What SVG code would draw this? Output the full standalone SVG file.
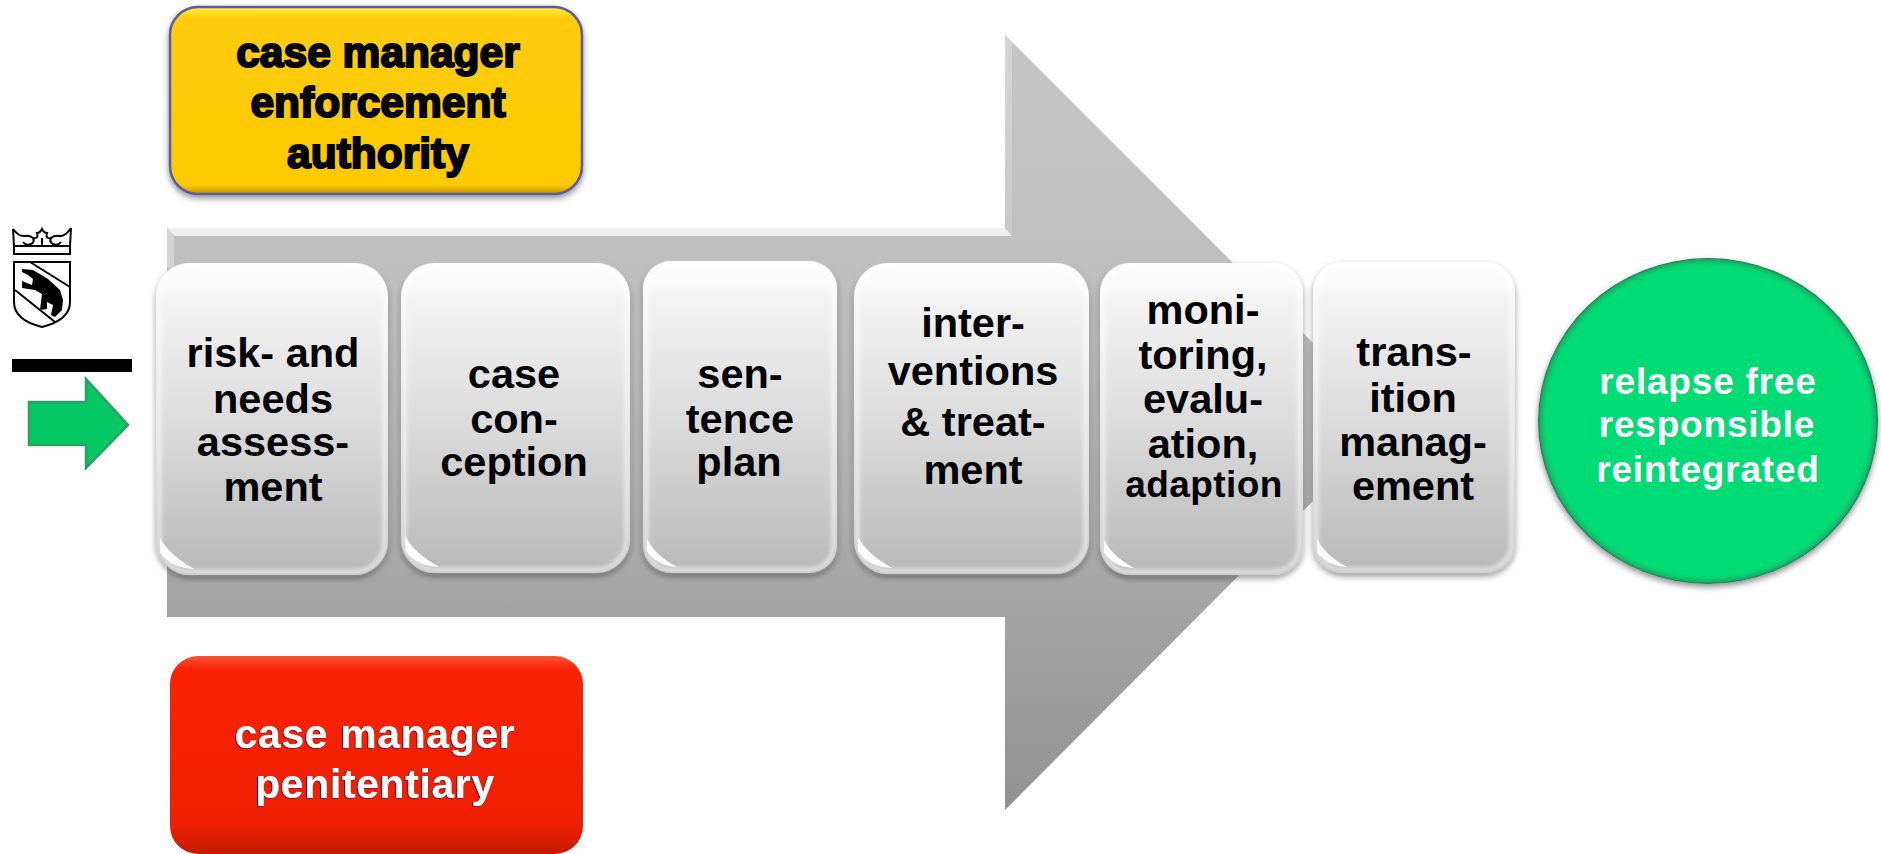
<svg xmlns="http://www.w3.org/2000/svg" width="1881" height="854" viewBox="0 0 1881 854">
<style>
text{font-family:"Liberation Sans",Arial,sans-serif;font-weight:700;text-anchor:middle}
.n{font-size:41.5px;fill:#000}
.card{fill:url(#cardG);filter:url(#shadow)}
.rim{fill:none;stroke:#fff;stroke-width:5;opacity:.6;filter:url(#b1)}
.glint{fill:#fff;filter:url(#b05)}
.y{font-size:42.5px;fill:#000;stroke:#000;stroke-width:2px}
.r{font-size:41px;fill:#fff;letter-spacing:.6px;filter:url(#fringe)}
.c{font-size:37px;fill:#fff;letter-spacing:.8px}
.ink{fill:none;stroke:#000;stroke-width:2}
</style>
<defs>
<linearGradient id="cardG" x1="0" y1="0" x2="0" y2="1"><stop offset="0" stop-color="#fff"/><stop offset=".07" stop-color="#fafafa"/><stop offset=".12" stop-color="#f3f3f3"/><stop offset=".55" stop-color="#d9d9d9"/><stop offset="1" stop-color="#b8b8b8"/></linearGradient>
<linearGradient id="arrowG" gradientUnits="userSpaceOnUse" x1="0" y1="35" x2="0" y2="810"><stop offset="0" stop-color="#c6c6c6"/><stop offset=".4" stop-color="#bcbcbc"/><stop offset="1" stop-color="#929292"/></linearGradient>
<linearGradient id="stripG" x1="0" y1="0" x2="0" y2="1"><stop offset="0" stop-color="#d6d6d6"/><stop offset="1" stop-color="#c8c8c8"/></linearGradient>
<linearGradient id="yellowG" x1="0" y1="0" x2="0" y2="1"><stop offset="0" stop-color="#fff238"/><stop offset=".06" stop-color="#ffcc08"/><stop offset=".95" stop-color="#fdca05"/><stop offset="1" stop-color="#c99400"/></linearGradient>
<linearGradient id="redG" x1="0" y1="0" x2="0" y2="1"><stop offset="0" stop-color="#ff5238"/><stop offset=".07" stop-color="#fb2203"/><stop offset=".85" stop-color="#ee1f02"/><stop offset="1" stop-color="#c41a00"/></linearGradient>
<radialGradient id="circleG"><stop offset="0" stop-color="#04dc74"/><stop offset=".95" stop-color="#04dc74"/><stop offset=".985" stop-color="#10b868"/><stop offset="1" stop-color="#2b7456"/></radialGradient>
<filter id="shadow" x="-10%" y="-10%" width="120%" height="120%"><feDropShadow dx="0" dy="3" stdDeviation="3" flood-color="#000" flood-opacity=".45"/></filter>
<filter id="b1"><feGaussianBlur stdDeviation="2"/></filter>
<filter id="b05"><feGaussianBlur stdDeviation=".7"/></filter>
<filter id="fringe" x="-5%" y="-5%" width="110%" height="110%"><feDropShadow dx="-1" dy=".5" stdDeviation=".4" flood-color="#101070" flood-opacity=".9"/></filter>
</defs>
<rect width="1881" height="854" fill="#fff"/>

<g id="connectors">
<g id="process-arrow">
<polygon points="167,228 1005,228 1005,35 1392,422 1005,810 1005,617 167,617" fill="url(#arrowG)"/>
<polygon points="167,228 1005,228 1012,236 174,236" fill="#efefef"/>
<polygon points="1005,35 1012,44 1012,236 1005,228" fill="url(#stripG)"/>
<polygon points="167,228 174,236 174,268 167,268" fill="#d4d4d4"/>
</g>
<g id="entry-arrow">
<polygon points="29,402 86,402 86,379 128,425 86,468 86,445 29,445" fill="#03c864" stroke="#2f9e66" stroke-width="2.5"/>
</g>
</g>

<g id="coat-of-arms">
<path class="ink" d="M14,246 H70 V254 H14 Z"/>
<path class="ink" d="M13,229 L14,246 M71,228 L70,246"/>
<path class="ink" d="M13,229 Q19,237 25,236 Q30,235 33,238 Q35,242 31,244 Q26,246 23,242 M71,228 Q65,237 59,236 Q54,235 51,238 Q49,242 53,244 Q58,246 61,242 M33,238 Q39,239 37,233 Q40,233 42,229 Q44,233 47,233 Q45,239 51,238 M42,238 V246"/>
<path class="ink" d="M14,262 H70 V302 Q70,320 42,327 Q14,320 14,302 Z"/>
<path class="ink" d="M30,262 L70,287 M15,290 L55,322"/>
<polygon fill="#000" points="22,269 33,270 48,279 60,290 63,300 62,310 55,317 51,315 53,305 47,302 47,309 40,310 42,294 35,290 22,288 22,281 32,285 33,279 28,275 22,272"/>
</g>
<rect id="divider-bar" x="12" y="359" width="120" height="13" fill="#000"/>

<g id="authority">
<rect x="170" y="7" width="412" height="187" rx="28" fill="url(#yellowG)" stroke="#5c5aa2" stroke-width="2.5" filter="url(#shadow)"/>
<text class="y" x="378" y="67">case manager</text>
<text class="y" x="378" y="117">enforcement</text>
<text class="y" x="378" y="168">authority</text>
</g>

<g id="penitentiary">
<rect x="170" y="656" width="413" height="198" rx="28" fill="url(#redG)"/>
<text class="r" x="375" y="748">case manager</text>
<text class="r" x="375" y="798">penitentiary</text>
</g>

<g id="node-assessment">
<rect class="card" x="156" y="263" width="232" height="312" rx="34"/>
<rect class="rim" x="159" y="266" width="226" height="306" rx="31"/>
<path class="glint" d="M160,538 Q168,554 194,569 Q170,568 160,552 Z"/>
<text class="n" x="273" y="367">risk- and</text>
<text class="n" x="273" y="413">needs</text>
<text class="n" x="273" y="456">assess-</text>
<text class="n" x="273" y="501">ment</text>
</g>

<g id="node-conception">
<rect class="card" x="401" y="263" width="229" height="310" rx="34"/>
<rect class="rim" x="404" y="266" width="223" height="304" rx="31"/>
<path class="glint" d="M405,536 Q413,552 439,567 Q415,566 405,550 Z"/>
<text class="n" x="514" y="388">case</text>
<text class="n" x="514" y="433">con-</text>
<text class="n" x="514" y="476">ception</text>
</g>

<g id="node-plan">
<rect class="card" x="643" y="261" width="194" height="312" rx="28"/>
<rect class="rim" x="646" y="264" width="188" height="306" rx="25"/>
<path class="glint" d="M647,539 Q655,555 677,567 Q657,566 647,551 Z"/>
<text class="n" x="740" y="388">sen-</text>
<text class="n" x="740" y="433">tence</text>
<text class="n" x="739" y="476">plan</text>
</g>

<g id="node-interventions">
<rect class="card" x="854" y="263" width="235" height="311" rx="34"/>
<rect class="rim" x="857" y="266" width="229" height="305" rx="31"/>
<path class="glint" d="M858,537 Q866,553 892,568 Q868,567 858,551 Z"/>
<text class="n" x="973" y="337">inter-</text>
<text class="n" x="973" y="385">ventions</text>
<text class="n" x="973" y="436">&amp; treat-</text>
<text class="n" x="973" y="484">ment</text>
</g>

<g id="node-monitoring">
<rect class="card" x="1100" y="263" width="203" height="312" rx="30"/>
<rect class="rim" x="1103" y="266" width="197" height="306" rx="27"/>
<path class="glint" d="M1104,540 Q1112,556 1134,568 Q1114,567 1104,553 Z"/>
<text class="n" x="1203" y="324">moni-</text>
<text class="n" x="1203" y="369">toring,</text>
<text class="n" x="1203" y="413">evalu-</text>
<text class="n" x="1203" y="458">ation,</text>
<text class="n" x="1204" y="497" style="font-size:37px;letter-spacing:.4px">adaption</text>
</g>

<g id="node-transition">
<rect class="card" x="1313" y="262" width="202" height="311" rx="30"/>
<rect class="rim" x="1316" y="265" width="196" height="305" rx="27"/>
<path class="glint" d="M1317,539 Q1325,555 1347,567 Q1327,566 1317,552 Z"/>
<text class="n" x="1414" y="366">trans-</text>
<text class="n" x="1413" y="412">ition</text>
<text class="n" x="1413" y="456">manag-</text>
<text class="n" x="1413" y="500">ement</text>
</g>

<g id="outcome">
<ellipse cx="1708" cy="421" rx="170" ry="163" fill="url(#circleG)" filter="url(#shadow)"/>
<text class="c" x="1708" y="394">relapse free</text>
<text class="c" x="1707" y="437">responsible</text>
<text class="c" x="1708" y="482">reintegrated</text>
</g>
</svg>
